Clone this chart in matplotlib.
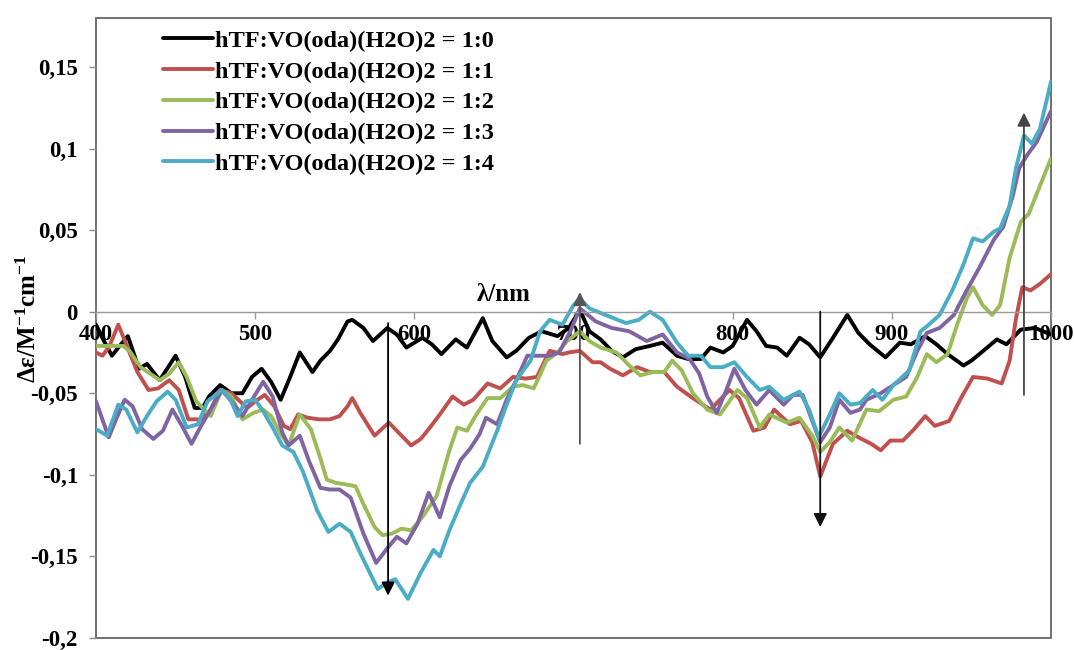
import matplotlib
matplotlib.use('Agg')
import matplotlib.pyplot as plt
from matplotlib.patches import Rectangle

plt.rcParams['font.family'] = ['Liberation Serif', 'DejaVu Serif']
plt.rcParams['font.weight'] = 'bold'

# CD spectra: wavelength (nm) and delta-epsilon
wl_10 = [400, 405, 410, 414, 420, 427, 432, 440, 450, 456, 462, 467, 471, 478, 485, 492, 498,
         504, 510, 516, 522, 528, 536, 541, 547, 552, 558, 561, 568, 574, 583, 589, 595, 605,
         611, 617, 626, 633, 643, 649, 658, 664, 672, 680, 690, 697, 704, 710, 717, 724, 731,
         739, 748, 756, 765, 772, 780, 786, 794, 800, 809, 815, 821, 828, 834, 842, 848, 855,
         863, 872, 879, 886, 896, 905, 912, 921, 928, 935, 945, 950, 955, 966, 972, 981, 990,
         995, 1000]
de_10 = [-0.008, -0.018, -0.027, -0.022, -0.015, -0.035, -0.032, -0.042, -0.027, -0.040, -0.059,
         -0.059, -0.052, -0.045, -0.050, -0.050, -0.040, -0.035, -0.043, -0.054, -0.040, -0.025,
         -0.037, -0.030, -0.024, -0.017, -0.006, -0.005, -0.010, -0.018, -0.010, -0.014, -0.022,
         -0.016, -0.020, -0.026, -0.017, -0.022, -0.004, -0.018, -0.028, -0.024, -0.016, -0.012,
         -0.015, -0.010, 0.001, -0.012, -0.017, -0.024, -0.028, -0.023, -0.021, -0.019, -0.027,
         -0.029, -0.029, -0.022, -0.025, -0.021, -0.005, -0.012, -0.021, -0.022, -0.027, -0.016,
         -0.020, -0.028, -0.016, -0.002, -0.013, -0.020, -0.028, -0.019, -0.020, -0.015, -0.020,
         -0.026, -0.033, -0.030, -0.026, -0.017, -0.020, -0.011, -0.010, -0.012, -0.014]

wl_11 = [400, 404, 408, 414, 419, 426, 433, 439, 446, 452, 458, 466, 472, 478, 485, 495, 500,
         506, 512, 518, 522, 527, 533, 540, 547, 553, 558, 561, 566, 575, 584, 590, 598, 604,
         609, 616, 624, 631, 637, 646, 654, 662, 670, 677, 685, 693, 697, 704, 712, 717, 723,
         731, 740, 748, 757, 765, 775, 786, 798, 804, 813, 820, 826, 836, 843, 850, 855, 863,
         872, 879, 887, 893, 899, 907, 914, 921, 927, 936, 944, 951, 960, 969, 974, 978, 982,
         987, 993, 1000]
de_11 = [-0.025, -0.027, -0.022, -0.008, -0.020, -0.037, -0.048, -0.047, -0.042, -0.048, -0.066,
         -0.066, -0.060, -0.048, -0.050, -0.059, -0.055, -0.051, -0.058, -0.070, -0.072, -0.063,
         -0.065, -0.066, -0.066, -0.064, -0.058, -0.053, -0.062, -0.076, -0.068, -0.074, -0.082,
         -0.078, -0.072, -0.063, -0.052, -0.057, -0.054, -0.044, -0.047, -0.040, -0.041, -0.040,
         -0.024, -0.026, -0.025, -0.024, -0.031, -0.031, -0.035, -0.039, -0.034, -0.037, -0.037,
         -0.046, -0.053, -0.060, -0.048, -0.053, -0.073, -0.071, -0.060, -0.069, -0.067, -0.080,
         -0.101, -0.081, -0.073, -0.077, -0.081, -0.085, -0.079, -0.079, -0.072, -0.064, -0.070,
         -0.067, -0.052, -0.040, -0.041, -0.044, -0.030, -0.004, 0.015, 0.013, 0.017, 0.023]

wl_12 = [400, 410, 417, 421, 428, 434, 440, 446, 452, 457, 463, 472, 479, 485, 492, 499, 505,
         510, 516, 521, 528, 535, 541, 545, 551, 558, 563, 569, 575, 580, 586, 592, 598, 605,
         614, 622, 627, 633, 639, 646, 654, 662, 668, 675, 683, 690, 696, 704, 710, 717, 727,
         735, 742, 750, 757, 762, 768, 775, 784, 792, 803, 809, 817, 823, 834, 842, 850, 855,
         861, 867, 875, 884, 892, 901, 909, 916, 922, 928, 935, 941, 947, 951, 957, 963, 968,
         974, 981, 986, 993, 1000]
de_12 = [-0.021, -0.021, -0.021, -0.024, -0.034, -0.038, -0.042, -0.038, -0.031, -0.040, -0.055,
         -0.064, -0.048, -0.052, -0.066, -0.062, -0.060, -0.064, -0.075, -0.082, -0.063, -0.072,
         -0.090, -0.103, -0.105, -0.106, -0.107, -0.120, -0.132, -0.137, -0.136, -0.133, -0.134,
         -0.126, -0.113, -0.085, -0.071, -0.073, -0.063, -0.053, -0.053, -0.046, -0.045, -0.047,
         -0.030, -0.025, -0.018, -0.012, -0.018, -0.022, -0.025, -0.033, -0.039, -0.037, -0.037,
         -0.030, -0.036, -0.050, -0.060, -0.063, -0.048, -0.053, -0.071, -0.063, -0.068, -0.065,
         -0.076, -0.086, -0.080, -0.071, -0.079, -0.060, -0.061, -0.054, -0.052, -0.040, -0.026,
         -0.031, -0.026, -0.008, 0.008, 0.015, 0.004, -0.002, 0.004, 0.033, 0.055, 0.060, 0.077,
         0.094]

wl_13 = [400, 404, 408, 413, 418, 423, 429, 436, 442, 448, 454, 460, 466, 472, 479, 486, 492,
         498, 505, 511, 517, 521, 528, 534, 541, 547, 553, 560, 568, 576, 583, 589, 595, 602,
         609, 616, 622, 629, 635, 641, 645, 652, 658, 664, 671, 678, 685, 691, 698, 704, 714,
         724, 735, 746, 756, 765, 773, 779, 784, 790, 796, 801, 808, 815, 823, 832, 838, 844,
         850, 855, 861, 867, 874, 880, 884, 893, 901, 909, 916, 922, 930, 939, 947, 955, 964,
         970, 976, 980, 985, 991, 1000]
de_13 = [-0.055, -0.066, -0.077, -0.065, -0.054, -0.058, -0.072, -0.078, -0.073, -0.060, -0.070,
         -0.081, -0.070, -0.060, -0.048, -0.056, -0.064, -0.054, -0.043, -0.052, -0.074, -0.082,
         -0.076, -0.092, -0.108, -0.109, -0.109, -0.114, -0.136, -0.154, -0.145, -0.138, -0.142,
         -0.130, -0.111, -0.126, -0.107, -0.091, -0.084, -0.075, -0.065, -0.069, -0.054, -0.042,
         -0.027, -0.027, -0.027, -0.025, -0.012, 0.002, -0.006, -0.010, -0.012, -0.018, -0.014,
         -0.025, -0.029, -0.038, -0.052, -0.062, -0.048, -0.035, -0.048, -0.057, -0.048, -0.057,
         -0.051, -0.051, -0.067, -0.080, -0.071, -0.054, -0.062, -0.060, -0.054, -0.050, -0.045,
         -0.040, -0.024, -0.013, -0.010, -0.002, 0.013, 0.027, 0.044, 0.052, 0.071, 0.088, 0.096,
         0.104, 0.123]

wl_14 = [400, 407, 414, 419, 426, 432, 438, 445, 450, 457, 464, 470, 479, 484, 489, 494, 500,
         505, 511, 517, 524, 530, 539, 546, 553, 560, 566, 577, 583, 588, 596, 604, 612, 616,
         622, 629, 635, 643, 652, 658, 664, 673, 679, 685, 693, 700, 704, 710, 720, 733, 741,
         748, 756, 765, 772, 780, 786, 794, 801, 809, 817, 823, 832, 842, 848, 854, 861, 867,
         874, 880, 888, 894, 901, 911, 918, 922, 930, 938, 945, 951, 957, 964, 968, 974, 978,
         983, 988, 993, 1000]
de_14 = [-0.072, -0.076, -0.057, -0.060, -0.074, -0.064, -0.055, -0.049, -0.054, -0.071, -0.069,
         -0.055, -0.048, -0.053, -0.064, -0.055, -0.054, -0.061, -0.071, -0.082, -0.086, -0.098,
         -0.122, -0.135, -0.130, -0.135, -0.148, -0.170, -0.166, -0.164, -0.176, -0.160, -0.146,
         -0.150, -0.134, -0.118, -0.105, -0.095, -0.073, -0.057, -0.042, -0.030, -0.012, -0.005,
         -0.008, 0.004, 0.008, 0.002, -0.002, -0.007, -0.005, 0.000, -0.005, -0.019, -0.027,
         -0.027, -0.034, -0.034, -0.031, -0.040, -0.048, -0.046, -0.054, -0.049, -0.060, -0.077,
         -0.063, -0.050, -0.057, -0.056, -0.048, -0.054, -0.045, -0.036, -0.012, -0.009, -0.002,
         0.013, 0.029, 0.045, 0.043, 0.049, 0.051, 0.065, 0.088, 0.108, 0.103, 0.112, 0.141]

series_wl = [wl_10, wl_11, wl_12, wl_13, wl_14]
series_de = [de_10, de_11, de_12, de_13, de_14]
labels = ['hTF:VO(oda)(H2O)2 = 1:0', 'hTF:VO(oda)(H2O)2 = 1:1', 'hTF:VO(oda)(H2O)2 = 1:2',
          'hTF:VO(oda)(H2O)2 = 1:3', 'hTF:VO(oda)(H2O)2 = 1:4']
colors = ['#000000', '#C0504D', '#9BBB59', '#8064A2', '#4BACC6']

# trend arrows: wavelength, start and end of the arrow in delta-epsilon
arrow_wl = [583.5, 704, 855, 983]
arrow_from = [-0.007, -0.081, 0.0, -0.051]
arrow_to = [-0.174, 0.012, -0.132, 0.122]
arrow_col = ['#000000', '#555555', '#111111', '#444444']

xticks = [400, 500, 600, 700, 800, 900, 1000]
yticks = [-0.2, -0.15, -0.1, -0.05, 0, 0.05, 0.1, 0.15]
ytick_labels = ['-0,2', '-0,15', '-0,1', '-0,05', '0', '0,05', '0,1', '0,15']

fig = plt.figure(figsize=(10.74, 6.5), dpi=100)
ax = fig.add_axes([0.0894, 0.0185, 0.8892, 0.9538])

for w, d, lab, c in zip(series_wl, series_de, labels, colors):
    ax.plot(w, d, color=c, lw=2.8, label=lab, solid_joinstyle='round', solid_capstyle='round')

for xa, y0, y1, c in zip(arrow_wl, arrow_from, arrow_to, arrow_col):
    ax.annotate('', xy=(xa, y1), xytext=(xa, y0),
                arrowprops=dict(arrowstyle='-|>', color=c, lw=1.3, mutation_scale=20,
                                shrinkA=0, shrinkB=0))

ax.set_xlim(400, 1000)
ax.set_ylim(-0.2, 0.18)

# x axis crosses at zero, frame drawn separately
for s in ['left', 'right', 'top']:
    ax.spines[s].set_visible(False)
ax.spines['bottom'].set_position(('data', 0))
ax.spines['bottom'].set_color('#9a9a9a')
ax.spines['bottom'].set_linewidth(1.0)
ax.add_patch(Rectangle((0, 0), 1, 1, transform=ax.transAxes, fill=False,
                       edgecolor='#707070', lw=1.4, clip_on=False, zorder=0))

ax.set_xticks(xticks)
ax.set_xticklabels([str(t) for t in xticks])
ax.set_yticks(yticks)
ax.set_yticklabels(ytick_labels)
ax.tick_params(axis='x', direction='out', length=5, width=1, color='#9a9a9a', pad=4,
               labelsize=16.5)
ax.tick_params(axis='y', direction='out', length=5, width=1, color='#8c8c8c', pad=8,
               labelsize=16.5)

ax.set_ylabel('Δε/M$\\mathregular{^{-1}}$cm$\\mathregular{^{-1}}$', fontsize=18,
              fontweight='bold')
ax.yaxis.set_label_coords(-0.058, 0.515)

ax.text(656, 0.0035, 'λ/nm', ha='center', va='bottom', fontsize=18, fontweight='bold')

ax.legend(loc='upper left', bbox_to_anchor=(0.07, 0.981), frameon=False, handlelength=2.05,
          handletextpad=0.08, labelspacing=0.36, borderaxespad=0, borderpad=0,
          prop=dict(family='Liberation Serif', weight='bold', size=17.5))

fig.savefig('out.png', dpi=100)
